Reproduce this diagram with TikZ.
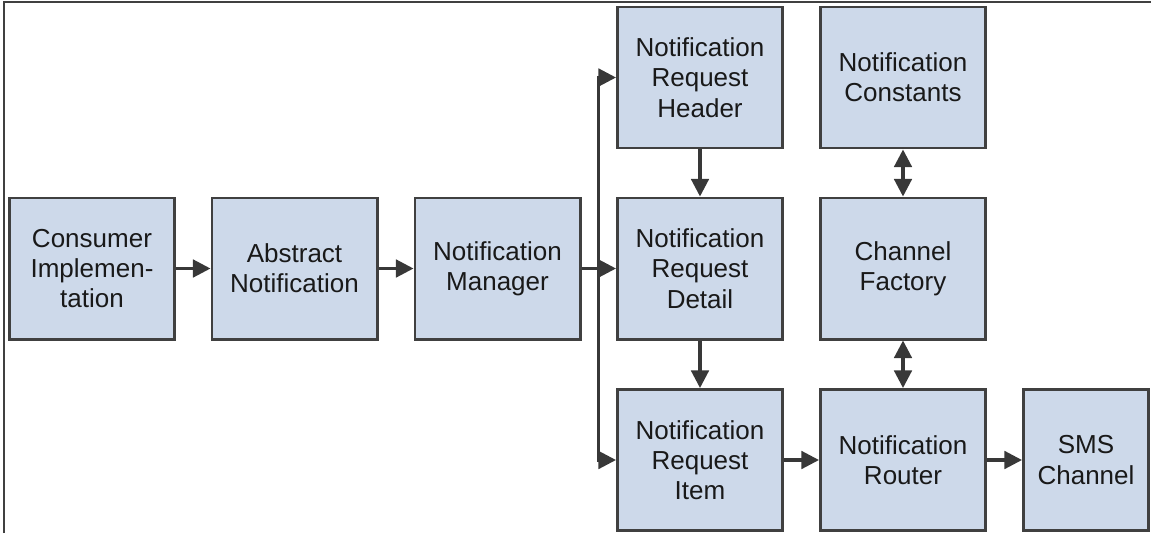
\documentclass[tikz,border=0pt]{standalone}
\usepackage{fontspec}
\setmainfont{Liberation Sans}
\usepackage{tikz}
\usetikzlibrary{arrows.meta,positioning,calc}
\definecolor{boxfill}{RGB}{205,217,234}
\definecolor{boxline}{RGB}{64,64,64}
\definecolor{arrowline}{RGB}{56,56,56}

\begin{document}
\begin{tikzpicture}[x=0.025cm, y=-0.025cm, >={Triangle[length=12.5pt,width=12.5pt]},
    every node/.style={align=center, text=black!90, font=\fontsize{18.5pt}{21.5pt}\selectfont},
    box/.style={draw=boxline, line width=2.1pt, fill=boxfill, minimum width=4.125cm, minimum height=3.525cm, inner sep=0pt},
    link/.style={->, line width=2.2pt, draw=arrowline}]
    \useasboundingbox (0,0) rectangle (1151,533);
    \draw[line width=1.4pt, boxline] (4,533) -- (4,2) -- (1151,2);
    % boxes
    \node[box] (cons)  at (92,268.5)   {Consumer\\Implemen-\\tation};
    \node[box] (abst)  at (294.5,268.5) {Abstract\\Notification};
    \node[box] (mgr)   at (497.5,268.5) {Notification\\Manager};
    \node[box] (hdr)   at (700,77.5)   {Notification\\Request\\Header};
    \node[box] (det)   at (700,268.5)  {Notification\\Request\\Detail};
    \node[box] (itm)   at (700,460)    {Notification\\Request\\Item};
    \node[box] (const) at (903,77.5)   {Notification\\Constants};
    \node[box] (fact)  at (903,268.5)  {Channel\\Factory};
    \node[box] (rtr)   at (903,460)    {Notification\\Router};
    \node[box, minimum width=3.125cm] (sms) at (1086,460) {SMS\\Channel};
    % connectors
    \draw[link] (cons) -- (abst);
    \draw[link] (abst) -- (mgr);
    \draw[link] (mgr) -- (det);
    \coordinate (split) at ($(mgr.east)!0.5!(det.west)$);
    \draw[link] (split) |- (hdr.west);
    \draw[link] (split) |- (itm.west);
    \draw[link] (hdr) -- (det);
    \draw[link] (det) -- (itm);
    \draw[link] (itm) -- (rtr);
    \draw[link] (rtr) -- (sms);
    \draw[link, <->] (const) -- (fact);
    \draw[link, <->] (fact) -- (rtr);
\end{tikzpicture}
\end{document}
